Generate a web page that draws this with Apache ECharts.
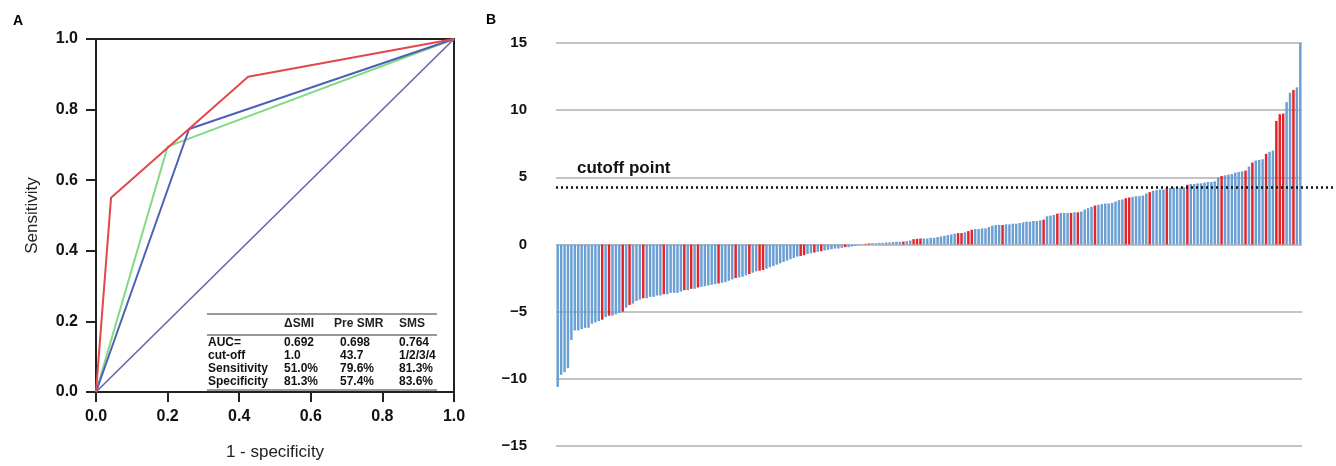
<!DOCTYPE html>
<html lang="en">

<head>
    <meta charset="UTF-8">
    <title>ROC and waterfall</title>
    <script src="https://cdn.jsdelivr.net/npm/echarts/dist/echarts.min.js"></script>
    <style>
        body { margin: 0; background: #fff; }
    </style>
</head>

<body>
    <div id="main" style="width: 1336px; height: 466px;"></div>
    <script type="text/javascript">
        // ROC curves, [1 - specificity, sensitivity]
        var rocDiag = [[0, 0], [1, 1]];
        var rocGreen = [[0, 0], [0.2, 0.695], [1, 1]];
        var rocBlue = [[0, 0], [0.26, 0.745], [1, 1]];
        var rocRed = [[0, 0], [0.042, 0.55], [0.425, 0.893], [1, 1]];

        var tableHead = ['\u0394SMI', 'Pre SMR', 'SMS'];
        var tableRows = [
            ['AUC=', '0.692', '0.698', '0.764'],
            ['cut-off', '1.0', '43.7', '1/2/3/4'],
            ['Sensitivity', '51.0%', '79.6%', '81.3%'],
            ['Specificity', '81.3%', '57.4%', '83.6%']
        ];

        // waterfall values (sorted), and which bars are red
        var changeValues = [
            -10.6, -9.7, -9.5, -9.2, -7.1, -6.4, -6.4, -6.3, -6.2, -6.2,
            -5.9, -5.8, -5.7, -5.6, -5.4, -5.3, -5.3, -5.2, -5.1, -5.0,
            -4.7, -4.5, -4.4, -4.2, -4.1, -4.0, -4.0, -3.9, -3.9, -3.8,
            -3.8, -3.7, -3.7, -3.6, -3.6, -3.6, -3.5, -3.4,
            -3.4, -3.3, -3.3, -3.2, -3.15, -3.1, -3.05, -3.0, -2.95, -2.9,
            -2.85, -2.8, -2.7, -2.6, -2.5, -2.45, -2.4, -2.3, -2.2, -2.1,
            -2.0, -1.95, -1.9, -1.8, -1.7, -1.6, -1.5, -1.4, -1.3, -1.2,
            -1.1, -1.0, -0.9, -0.85, -0.8,
            -0.7, -0.65, -0.6, -0.55, -0.5, -0.45, -0.4, -0.35, -0.3, -0.3,
            -0.25, -0.2, -0.2, -0.15, -0.1, -0.05, -0.03, 0.05, 0.08, 0.1,
            0.1, 0.12, 0.12, 0.15, 0.15, 0.18, 0.2, 0.2, 0.22, 0.25,
            0.3, 0.4, 0.42, 0.45, 0.45,
            0.45, 0.5, 0.5, 0.55, 0.6, 0.65, 0.7, 0.75, 0.8, 0.85,
            0.85, 0.9, 1.0, 1.1, 1.15, 1.15, 1.2, 1.2, 1.3, 1.4,
            1.45, 1.45, 1.45, 1.5, 1.5, 1.55, 1.55, 1.6, 1.65, 1.7,
            1.7, 1.75, 1.75, 1.8, 1.85, 2.1, 2.15, 2.2,
            2.3, 2.35, 2.35, 2.35, 2.35, 2.4, 2.4, 2.45, 2.6, 2.7,
            2.8, 2.9, 2.95, 3.0, 3.05, 3.05, 3.1, 3.2, 3.3, 3.35,
            3.45, 3.5, 3.55, 3.6, 3.6, 3.65, 3.8, 3.9, 4.0, 4.05,
            4.1, 4.1, 4.2, 4.2, 4.25, 4.25, 4.25,
            4.25, 4.45, 4.5, 4.5, 4.55, 4.55, 4.6, 4.65, 4.65, 4.7,
            5.0, 5.1, 5.15, 5.2, 5.25, 5.35, 5.4, 5.45, 5.5, 5.8,
            6.1, 6.25, 6.3, 6.35, 6.75, 6.9, 7.0, 9.2, 9.7, 9.75,
            10.6, 11.3, 11.5, 11.7, 15.0
        ];
        var redBars = [13, 15, 19, 21, 25, 31, 37, 39, 41, 47, 52, 56, 59, 60, 71, 72,
            75, 77, 84, 90, 91, 101, 104, 105, 106, 117, 118, 120, 121, 130, 142,
            146, 150, 152, 157, 166, 167, 173, 178, 184, 194, 201, 203, 207, 210, 211, 212, 215];
        var cutoffValue = 4.25;

        var FONT = '"Liberation Sans", Arial, sans-serif';
        var myChart = echarts.init(document.getElementById('main'));

        var barData = changeValues.map(function (v, i) {
            return {
                value: v,
                itemStyle: { color: redBars.indexOf(i) >= 0 ? '#e3252b' : '#6a9fd4' }
            };
        });

        // table inside panel A
        var tableGraphics = [];
        var colX = [208, 284, 340, 399];
        var rowY = [343, 356, 369, 382];
        [314, 335, 390].forEach(function (y) {
            tableGraphics.push({
                type: 'line', shape: { x1: 207, y1: y, x2: 437, y2: y },
                style: { stroke: '#9a9a9a', lineWidth: 2 }
            });
        });
        tableHead.forEach(function (t, i) {
            tableGraphics.push({
                type: 'text', x: i == 1 ? 334 : colX[i + 1], y: 324,
                style: { text: t, font: 'bold 12px ' + FONT, fill: '#222', verticalAlign: 'middle' }
            });
        });
        tableRows.forEach(function (row, r) {
            row.forEach(function (t, c) {
                tableGraphics.push({
                    type: 'text', x: colX[c], y: rowY[r],
                    style: { text: t, font: 'bold 12px ' + FONT, fill: '#111', verticalAlign: 'middle' }
                });
            });
        });

        option = {
            animation: false,
            textStyle: { fontFamily: FONT },
            title: [
                { text: 'A', left: 8, top: 9, textStyle: { fontSize: 14, fontWeight: 'bold', color: '#000' } },
                { text: 'B', left: 481, top: 8, textStyle: { fontSize: 14, fontWeight: 'bold', color: '#000' } },
                { text: 'cutoff point', left: 572, top: 155, textStyle: { fontSize: 17, fontWeight: 'bold', color: '#111' } }
            ],
            grid: [
                { left: 96, top: 39, width: 358, height: 358, show: true, borderColor: '#222', borderWidth: 2 },
                { left: 556, right: 34, top: 43, bottom: 20 },
                { left: 556, right: 2, top: 43, bottom: 20 }
            ],
            xAxis: [
                {
                    gridIndex: 0, type: 'value', min: 0, max: 1, interval: 0.2,
                    name: '1 - specificity', nameLocation: 'middle', nameGap: 52,
                    nameTextStyle: { fontSize: 17, color: '#222' },
                    axisLine: { lineStyle: { color: '#222', width: 2 } },
                    axisTick: { length: 10, lineStyle: { color: '#222', width: 2 } },
                    axisLabel: {
                        fontSize: 16, fontWeight: 'bold', color: '#111', margin: 17,
                        formatter: function (v) { return v.toFixed(1); }
                    },
                    splitLine: { show: false }
                },
                {
                    gridIndex: 1, type: 'category', data: changeValues.map(function (v, i) { return i; }),
                    show: false
                },
                { gridIndex: 2, type: 'value', min: 0, max: 1, show: false }
            ],
            yAxis: [
                {
                    gridIndex: 0, type: 'value', min: 0, max: 1, interval: 0.2,
                    name: 'Sensitivity', nameLocation: 'middle', nameGap: 55,
                    nameTextStyle: { fontSize: 17, color: '#222' },
                    axisLine: { show: true, lineStyle: { color: '#222', width: 2 } },
                    axisTick: { show: true, length: 10, lineStyle: { color: '#222', width: 2 } },
                    axisLabel: {
                        fontSize: 16, fontWeight: 'bold', color: '#111', margin: 18,
                        formatter: function (v) { return v.toFixed(1); }
                    },
                    splitLine: { show: false }
                },
                {
                    gridIndex: 1, type: 'value', min: -15, max: 15, interval: 5,
                    axisLine: { show: false }, axisTick: { show: false },
                    axisLabel: {
                        fontSize: 15, fontWeight: 'bold', color: '#111', margin: 29,
                        formatter: function (v) { return String(v).replace('-', '\u2212'); }
                    },
                    splitLine: { lineStyle: { color: '#c4c4c4', width: 2 } }
                },
                { gridIndex: 2, type: 'value', min: -15, max: 15, show: false }
            ],
            series: [
                {
                    type: 'line', xAxisIndex: 0, yAxisIndex: 0, data: rocDiag, symbol: 'none',
                    lineStyle: { color: '#6467a8', width: 1.6 }
                },
                {
                    type: 'line', xAxisIndex: 0, yAxisIndex: 0, data: rocGreen, symbol: 'none',
                    lineStyle: { color: '#84d984', width: 2 }
                },
                {
                    type: 'line', xAxisIndex: 0, yAxisIndex: 0, data: rocBlue, symbol: 'none',
                    lineStyle: { color: '#4c60b8', width: 2 }
                },
                {
                    type: 'line', xAxisIndex: 0, yAxisIndex: 0, data: rocRed, symbol: 'none',
                    lineStyle: { color: '#e4474b', width: 2 }
                },
                {
                    type: 'bar', xAxisIndex: 1, yAxisIndex: 1, data: barData,
                    barCategoryGap: '28%'
                },
                {
                    type: 'line', xAxisIndex: 2, yAxisIndex: 2, symbol: 'none',
                    data: [[0, cutoffValue], [1, cutoffValue]],
                    lineStyle: { color: '#111', width: 2.5, type: [2, 3] },
                    z: 5
                }
            ],
            graphic: tableGraphics
        };

        myChart.setOption(option);
    </script>
</body>

</html>
